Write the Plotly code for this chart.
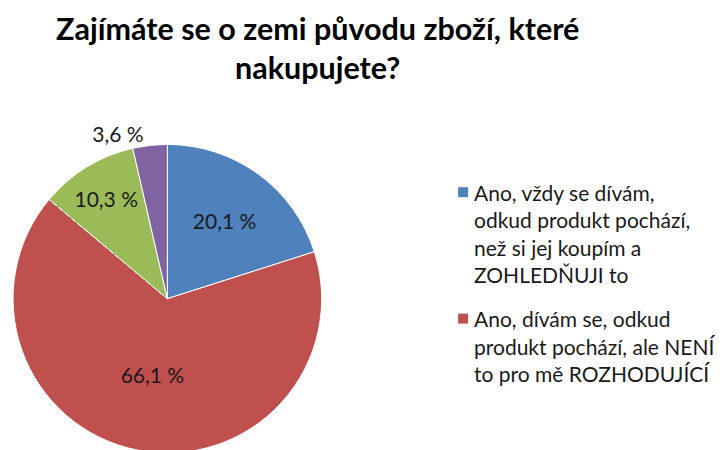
import plotly.graph_objects as go

# ---- data ----
labels = [
    "Ano, vždy se dívám, odkud produkt pochází, než si jej koupím a ZOHLEDŇUJI to",
    "Ano, dívám se, odkud produkt pochází, ale NENÍ to pro mě ROZHODUJÍCÍ",
    "Ne, nedívám se",
    "Nevím",
]
values = [20.1, 66.1, 10.3, 3.6]
colors = ["#4F81BD", "#C0504D", "#9BBB59", "#8064A2"]
text_pos = ["inside", "inside", "inside", "outside"]

title_lines = ["Zajímáte se o zemi původu zboží, které", "nakupujete?"]
legend_lines = [
    ["Ano, vždy se dívám,", "odkud produkt pochází,", "než si jej koupím a", "ZOHLEDŇUJI to"],
    ["Ano, dívám se, odkud", "produkt pochází, ale NENÍ", "to pro mě ROZHODUJÍCÍ"],
]

W, H = 723, 450
FONT = "Lato"
OFF = 8  # page body margin offset


def py(px):
    """convert target screen pixel y to paper coordinate"""
    return 1 - (px - OFF) / H


def px_(x):
    return (x - OFF) / W


fig = go.Figure(go.Pie(
    labels=labels,
    values=values,
    sort=False,
    direction="clockwise",
    rotation=0,
    marker=dict(colors=colors, line=dict(color="white", width=1)),
    texttemplate="%{value:.1f} %",
    textposition=text_pos,
    insidetextorientation="horizontal",
    textfont=dict(family=FONT, size=21, color="#1a1a1a"),
    outsidetextfont=dict(family=FONT, size=21, color="#1a1a1a"),
    domain=dict(x=[px_(10), px_(320)], y=[py(455), py(145)]),
    showlegend=False,
))

annotations = []
shapes = []
# title
annotations.append(dict(text=title_lines[0], x=px_(316), y=py(28), xref="paper", yref="paper",
                        xanchor="center", yanchor="middle", showarrow=False,
                        font=dict(family=FONT, size=30.5, color="black", weight="bold")))
annotations.append(dict(text=title_lines[1], x=px_(316), y=py(67), xref="paper", yref="paper",
                        xanchor="center", yanchor="middle", showarrow=False,
                        font=dict(family=FONT, size=30.5, color="black", weight="bold")))

# custom legend (only two entries visible in reference)
entry_tops = [193, 320]
line_gap = 27.7
for i, lines in enumerate(legend_lines):
    y0 = entry_tops[i]
    shapes.append(dict(type="rect", xref="paper", yref="paper",
                       x0=px_(457), x1=px_(467), y0=py(y0 - 5), y1=py(y0 + 5),
                       fillcolor=colors[i], line=dict(width=0)))
    for j, ln in enumerate(lines):
        annotations.append(dict(text=ln, x=px_(471), y=py(y0 + j * line_gap),
                                xref="paper", yref="paper", xanchor="left", yanchor="middle",
                                showarrow=False,
                                font=dict(family=FONT, size=21, color="#1a1a1a")))

fig.update_layout(
    width=W, height=H,
    margin=dict(l=0, r=0, t=0, b=0),
    paper_bgcolor="white",
    plot_bgcolor="white",
    separators=", ",
    annotations=annotations,
    shapes=shapes,
)

fig.write_html("out.html")
